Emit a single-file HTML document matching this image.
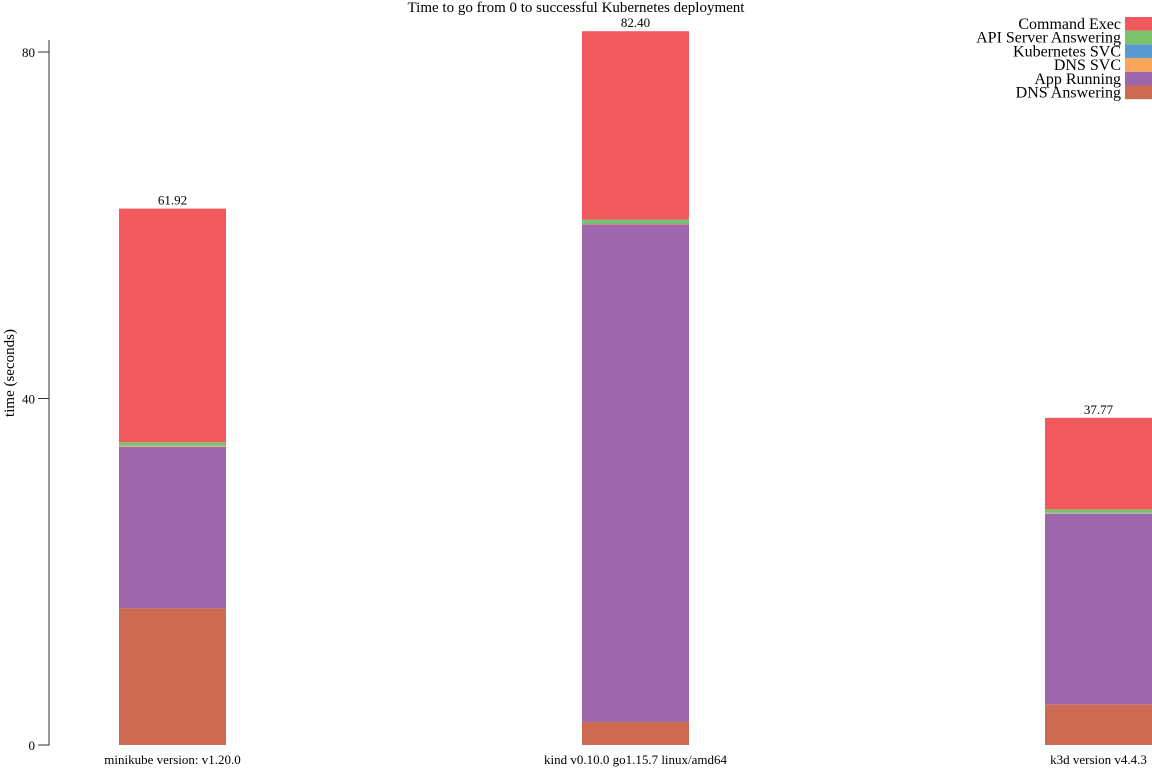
<!DOCTYPE html>
<html><head><meta charset="utf-8"><style>
body{margin:0;background:#fff}
svg{display:block;font-family:"Liberation Serif",serif}
</style></head><body>
<svg id="chart" width="1152" height="768">
<text x="576" y="12" text-anchor="middle" font-size="15">Time to go from 0 to successful Kubernetes deployment</text>
<text transform="translate(14,373) rotate(-90)" text-anchor="middle" font-size="15">time (seconds)</text>
<g id="axis"></g><g id="bars"></g><g id="legend"></g>
</svg>
<script>
const categories=["minikube version: v1.20.0","kind v0.10.0 go1.15.7 linux/amd64","k3d version v4.4.3"];
const seriesNames=["DNS Answering","App Running","DNS SVC","Kubernetes SVC","API Server Answering","Command Exec"];
const dnsAnswering=[15.8,2.65,4.7];
const appRunning=[18.6,57.45,22.0];
const dnsSvc=[0.1,0.05,0.05];
const k8sSvc=[0.05,0.05,0.05];
const apiServer=[0.4,0.45,0.4];
const commandExec=[26.97,21.75,10.57];
const totals=["61.92","82.40","37.77"];
const yTicks=[0,40,80];
const colors=["#cc6a52","#9e67ab","#f9a65a","#599ad3","#79c36a","#f1595f"];
const series=[dnsAnswering,appRunning,dnsSvc,k8sSvc,apiServer,commandExec];
const NS="http://www.w3.org/2000/svg";
const y=v=>745-v*8.6625;
const xStart=[119,582,1045],bw=107;
function mk(t,a,p){const e=document.createElementNS(NS,t);for(const k in a)e.setAttribute(k,a[k]);p.appendChild(e);return e;}
const ax=document.getElementById('axis');
const al=mk('line',{x1:49,x2:49,y1:40,y2:745.5,stroke:'#333'},ax);


yTicks.forEach(t=>{
 mk('line',{x1:38,x2:49,y1:y(t),y2:y(t),stroke:'#333'},ax);
 const tx=mk('text',{x:35,y:y(t)+5,'text-anchor':'end','font-size':13},ax);tx.textContent=t;
 
 
});
const bg=document.getElementById('bars');
categories.forEach((c,i)=>{
 let acc=0;
 series.forEach((s,j)=>{
  const r=mk('rect',{x:xStart[i],width:bw,y:y(acc+s[i]),height:s[i]*8.6625,fill:colors[j]},bg);
  
  
  acc+=s[i];
 });
 const lt=mk('text',{x:xStart[i]+bw/2,y:y(acc)-4,'text-anchor':'middle','font-size':13},bg);lt.textContent=totals[i];
 
 
 const cl=mk('text',{x:xStart[i]+bw/2,y:764,'text-anchor':'middle','font-size':13},bg);cl.textContent=c;
 
 
});
const lg=document.getElementById('legend');
const order=[5,4,3,2,1,0];
order.forEach((j,k)=>{
 const yy=17+k*13.7;
 const sw=mk('rect',{x:1125,y:yy,width:27,height:13.7,fill:colors[j]},lg);
 
 
 const t=mk('text',{x:1121,y:yy+12,'text-anchor':'end','font-size':16},lg);t.textContent=seriesNames[j];
 
 
});
</script>
</body></html>
